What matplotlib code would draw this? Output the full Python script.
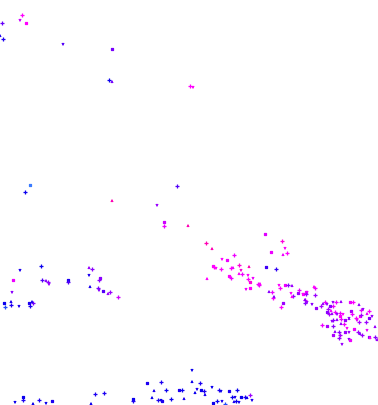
import numpy as np
import matplotlib
matplotlib.use("Agg")
import matplotlib.pyplot as plt
from matplotlib.colors import LinearSegmentedColormap

# point positions (x to the right, y downward) and colour value 0=blue .. 1=pink
xs = [22, 20, 26, 2, 0, 3, 63, 112, 109, 112, 190, 193,
      30, 25, 112, 177, 157, 164, 164, 188,
      41, 20, 13, 42, 46, 48, 49, 68, 68, 89, 92, 89, 100, 99, 90, 98, 99, 103,
      110, 108, 118, 12, 4, 5, 11, 11, 19, 29, 30, 32, 33,
      15, 23, 23, 33, 39, 46, 52, 95, 91, 104,
      192, 147, 161, 192, 200, 212, 179, 182, 154, 166, 197, 201, 204, 195, 219,
      221, 229, 237, 205, 232, 235, 241, 245, 247, 250, 252, 133, 133, 152, 158,
      161, 162, 171, 184, 217, 222, 213, 225, 234, 236, 239,
      265, 206, 212, 282, 285, 271, 287, 283, 234, 222, 227, 239, 249, 214, 216,
      213, 221, 233, 231, 241, 266, 276, 239, 242, 248, 229, 231, 207, 248, 253,
      250, 258, 260, 259, 279, 285, 288, 292, 280, 246, 250, 299, 269, 272, 291,
      298, 293, 274, 273, 307, 303, 306, 292, 305, 307, 283, 281,
      314, 315, 303, 306, 315, 305, 305, 312, 316,
      321, 323, 325, 327, 330, 328, 331, 333, 333, 327, 329, 332, 335, 337, 340,
      336, 341, 340, 343, 350, 353, 359, 361, 363, 351, 352, 349, 356, 357, 360,
      361, 367, 369, 372, 369, 366, 375, 359, 349, 345, 341, 337, 333, 332, 327,
      333, 341, 344, 347, 345, 339, 335, 340, 349, 354, 358, 360, 362, 367, 369,
      375, 377, 379, 349, 350, 379, 370, 339, 342, 333, 322]
ys = [16, 21, 24, 24, 37, 40, 45, 50, 81, 83, 87, 88,
      186, 193, 202, 187, 206, 223, 227, 227,
      267, 271, 281, 281, 282, 283, 285, 281, 283, 269, 270, 276, 279, 281, 288,
      289, 291, 292, 293, 295, 298, 293, 304, 308, 303, 306, 307, 304, 307, 303, 304,
      403, 398, 401, 405, 401, 404, 402, 395, 405, 394,
      371, 384, 383, 383, 384, 388, 391, 391, 392, 391, 390, 391, 392, 394, 391,
      392, 392, 391, 396, 398, 398, 398, 398, 399, 396, 401, 400, 402, 399, 401,
      401, 402, 400, 400, 402, 402, 404, 405, 403, 402, 403,
      235, 244, 250, 242, 249, 253, 254, 256, 256, 260, 261, 266, 268, 268, 269,
      267, 270, 269, 269, 271, 268, 270, 275, 275, 276, 277, 279, 280, 280, 279,
      283, 285, 285, 286, 286, 286, 286, 287, 289, 290, 289, 291, 293, 293, 294,
      294, 297, 298, 299, 293, 295, 295, 298, 301, 303, 304, 308,
      288, 289, 295, 293, 296, 301, 304, 305, 309,
      307, 305, 303, 305, 307, 310, 312, 307, 303, 313, 315, 315, 313, 315, 317,
      303, 303, 314, 315, 303, 303, 306, 311, 310, 312, 315, 320, 319, 321, 317,
      316, 315, 312, 317, 319, 323, 328, 323, 319, 321, 320, 321, 321, 322, 327,
      327, 325, 325, 329, 333, 333, 333, 336, 333, 330, 333, 335, 336, 331, 338,
      338, 341, 339, 340, 341, 341, 339, 339, 345, 336, 326, 321]
cs = [0.85, 0.7, 0.85, 0.4, 0.2, 0.2, 0.35, 0.45, 0.15, 0.45, 0.85, 0.85,
      0.0, 0.15, 0.95, 0.35, 0.55, 0.7, 0.8, 0.95,
      0.15, 0.2, 0.8, 0.35, 0.5, 0.5, 0.55, 0.2, 0.35, 0.55, 0.5, 0.2, 0.5, 0.5,
      0.2, 0.45, 0.5, 0.35, 0.55, 0.55, 0.7, 0.5, 0.15, 0.05, 0.2, 0.2, 0.2, 0.2,
      0.2, 0.2, 0.45,
      0.15, 0.15, 0.2, 0.15, 0.2, 0.15, 0.2, 0.2, 0.15, 0.2,
      0.15, 0.2, 0.2, 0.15, 0.2, 0.15, 0.2, 0.15, 0.2, 0.15, 0.2, 0.15, 0.2, 0.15,
      0.2, 0.15, 0.2, 0.15, 0.2, 0.15, 0.2, 0.15, 0.2, 0.15, 0.55, 0.2, 0.15, 0.2,
      0.15, 0.2, 0.15, 0.2, 0.15, 0.2, 0.15, 0.2, 0.15, 0.05, 0.2, 0.15, 0.2,
      0.75, 0.95, 0.95, 0.9, 0.85, 0.8, 0.85, 0.8, 0.8, 0.85, 0.8, 0.9, 0.95, 0.85,
      0.85, 0.85, 0.85, 0.8, 0.85, 0.9, 0.3, 0.25, 0.85, 0.8, 0.85, 0.85, 0.8, 0.85,
      0.85, 0.8, 0.9, 0.8, 0.85, 0.8, 0.85, 0.8, 0.5, 0.55, 0.85, 0.8, 0.85, 0.8,
      0.5, 0.8, 0.85, 0.55, 0.5, 0.5, 0.85, 0.8, 0.85, 0.55, 0.85, 0.8, 0.55, 0.55,
      0.85, 0.85, 0.8, 0.8, 0.8, 0.55, 0.5, 0.5, 0.5,
      0.55, 0.6, 0.55, 0.8, 0.55, 0.5, 0.6, 0.85, 0.8, 0.55, 0.5, 0.6, 0.55, 0.8,
      0.55, 0.85, 0.8, 0.55, 0.8, 0.85, 0.8, 0.85, 0.55, 0.8, 0.55, 0.6, 0.8, 0.55,
      0.85, 0.8, 0.85, 0.55, 0.8, 0.85, 0.55, 0.5, 0.55, 0.55, 0.6, 0.5, 0.55, 0.8,
      0.55, 0.5, 0.55, 0.6, 0.5, 0.55, 0.8, 0.85, 0.55, 0.5, 0.55, 0.6, 0.55, 0.8,
      0.55, 0.5, 0.55, 0.8, 0.55, 0.5, 0.55, 0.55, 0.5, 0.8, 0.55, 0.85, 0.55,
      0.55, 0.6, 0.8, 0.85]

cmap = LinearSegmentedColormap.from_list(
    "bm", [(0.0, "#3a7bff"), (0.12, "#0000ee"), (0.5, "#8a00ff"),
           (0.85, "#ff00ff"), (1.0, "#ff0090")])

xs = np.array(xs, float)
ys = np.array(ys, float)
cs = np.array(cs, float)
n = min(len(xs), len(ys), len(cs))
xs, ys, cs = xs[:n], ys[:n], cs[:n]

fig = plt.figure(figsize=(3.78, 4.06), dpi=100)
ax = fig.add_axes([0, 0, 1, 1])

markers = ["+", "1", "s", "+", "2"]
sizes = {"+": 6, "1": 5, "s": 2.5, "2": 5}
for i, m in enumerate(markers):
    sel = np.arange(n) % len(markers) == i
    ax.scatter(xs[sel], ys[sel], c=cs[sel], cmap=cmap, vmin=0, vmax=1,
               marker=m, s=sizes[m], linewidths=0.9)

ax.set_xlim(0, 378)
ax.set_ylim(406, 0)
ax.axis("off")

fig.savefig("out.png", dpi=100)
